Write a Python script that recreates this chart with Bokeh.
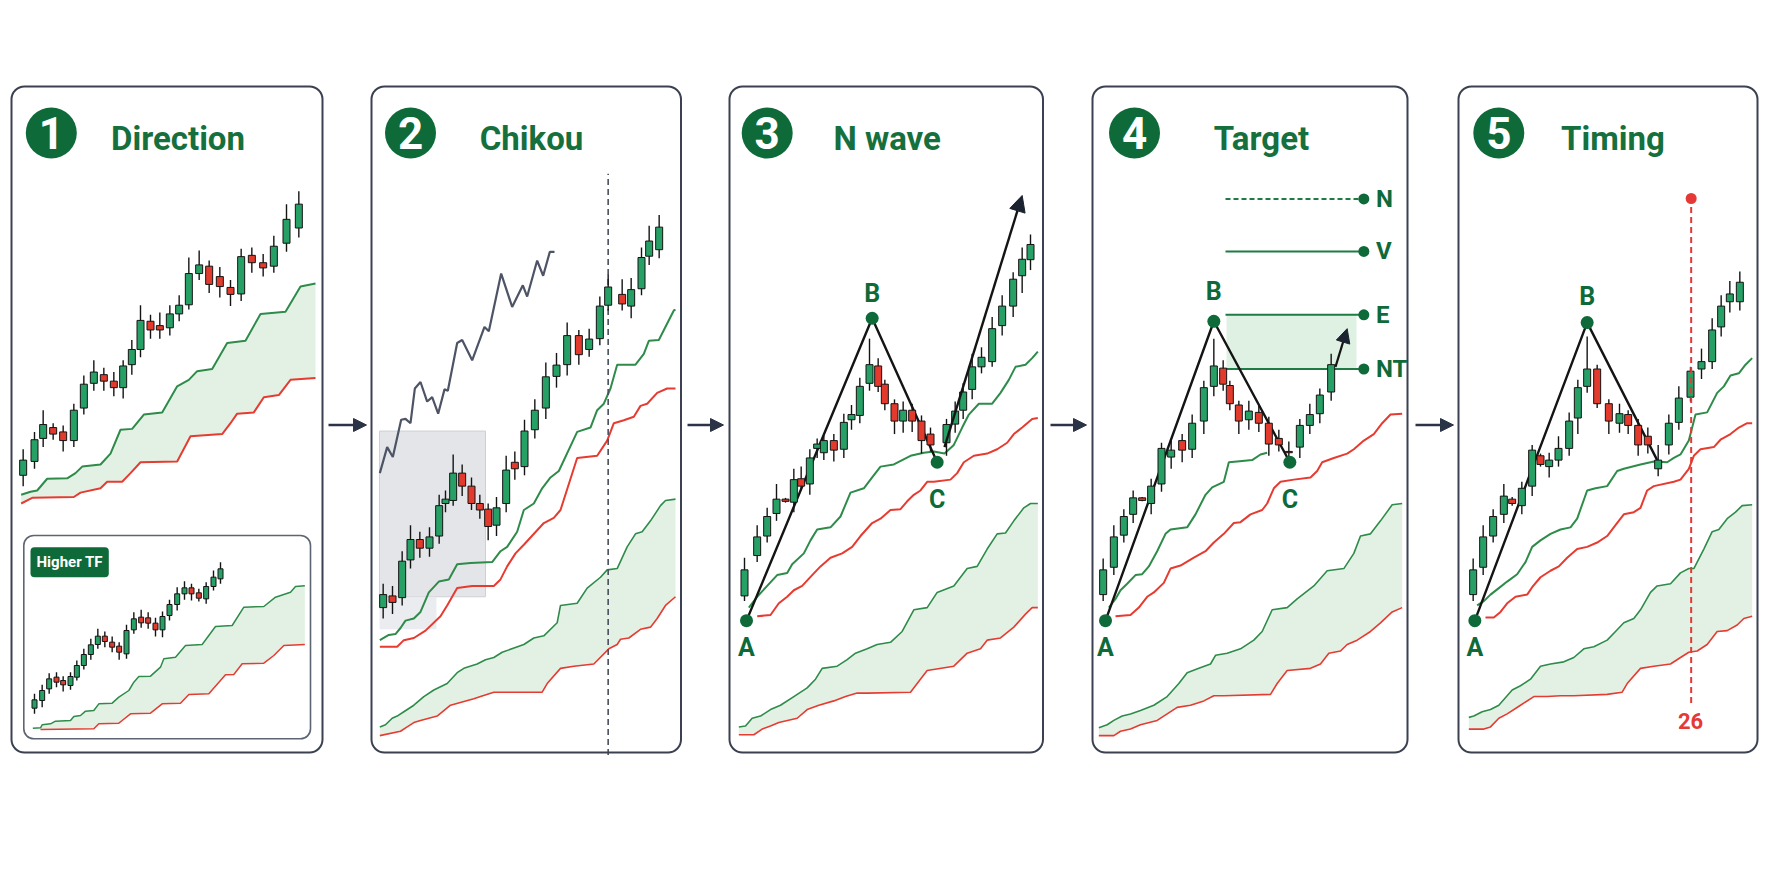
from bokeh.plotting import figure
from bokeh.layouts import row
from bokeh.models import Range1d, BoxAnnotation, Label, Arrow, NormalHead
from bokeh.embed import file_html
from bokeh.resources import INLINE

# ======================= DATA =======================
TITLES = ["Direction", "Chikou", "N wave", "Target", "Timing"]

# Panel 1 : main timeframe candles (time, open, high, low, close)
p1_t = [6.8, 10.2, 12.8, 15.8, 18.8, 22.0, 25.0, 28.0, 31.0, 34.0, 36.8, 39.4, 42.0, 45.0, 47.8, 50.8, 53.6, 56.5, 59.6, 62.6, 65.8, 69.0, 72.2, 75.4, 78.8, 82.0, 85.8, 89.5]
p1_open = [69.0, 72.2, 77.5, 80.0, 79.0, 77.0, 84.5, 90.2, 92.2, 90.7, 89.2, 94.5, 98.0, 104.5, 103.5, 103.0, 106.2, 108.3, 115.5, 117.2, 114.8, 112.3, 110.8, 119.7, 118.0, 117.2, 122.5, 126.0]
p1_high = [75.0, 79.0, 84.0, 81.0, 80.5, 85.5, 92.0, 95.5, 93.8, 92.8, 95.5, 100.2, 108.2, 106.0, 106.5, 108.2, 110.5, 119.2, 120.8, 118.5, 117.0, 114.0, 121.2, 121.5, 120.0, 124.2, 131.5, 134.5]
p1_low = [66.5, 70.5, 75.5, 77.2, 74.5, 75.5, 83.0, 88.5, 88.5, 87.2, 86.7, 92.2, 96.2, 100.5, 100.5, 101.2, 104.5, 107.2, 114.0, 111.0, 110.0, 108.0, 109.2, 115.7, 114.8, 115.7, 120.5, 123.8]
p1_close = [72.5, 77.2, 80.7, 78.5, 77.0, 84.0, 90.0, 92.8, 90.7, 89.2, 94.2, 98.0, 104.7, 102.5, 102.5, 106.2, 108.2, 115.5, 117.5, 113.0, 112.5, 110.7, 119.4, 118.0, 116.8, 121.8, 128.0, 131.5]
p1_span_a = [(6.2, 64.5), (9.0, 65.2), (11.0, 65.5), (14.0, 68.2), (20.0, 68.3), (22.5, 69.5), (24.5, 71.0), (30.0, 71.5), (33.0, 74.0), (36.0, 79.5), (39.5, 79.7), (43.0, 83.0), (48.5, 83.5), (53.0, 89.5), (56.5, 91.0), (59.0, 93.0), (63.5, 93.5), (68.0, 99.5), (73.5, 100.0), (78.0, 106.2), (85.5, 106.7), (90.0, 112.5), (94.5, 113.2)]
p1_span_b = [(6.2, 62.5), (9.5, 63.8), (22.0, 64.0), (24.0, 65.0), (30.0, 66.0), (32.0, 67.5), (36.5, 67.5), (39.0, 69.5), (42.0, 72.0), (53.0, 72.2), (57.0, 78.0), (66.5, 78.5), (69.0, 81.0), (71.0, 83.2), (76.0, 83.5), (79.0, 87.0), (83.5, 87.5), (87.0, 91.0), (94.5, 91.4)]

# Panel 1 inset : higher timeframe
htf_t = [5.7, 8.0, 10.1, 12.3, 14.3, 16.5, 18.4, 20.5, 22.6, 24.7, 26.8, 29.0, 31.1, 33.3, 35.5, 37.7, 39.8, 42.0, 44.1, 46.2, 48.5, 50.7, 52.8, 55.0, 57.2, 59.4, 61.5]
htf_open = [16.7, 19.0, 22.5, 26.0, 25.0, 23.5, 26.0, 29.5, 32.8, 35.8, 38.3, 36.5, 35.3, 33.0, 40.2, 44.0, 43.8, 42.2, 40.2, 44.5, 47.8, 51.0, 52.8, 51.3, 49.5, 53.2, 55.5]
htf_high = [21.0, 23.7, 27.2, 27.5, 26.3, 27.5, 31.0, 34.5, 37.5, 40.5, 39.7, 38.2, 36.5, 41.7, 45.5, 46.2, 45.5, 43.8, 45.7, 49.2, 53.0, 54.8, 54.0, 52.5, 54.5, 58.0, 60.5]
htf_low = [15.0, 17.0, 21.0, 23.0, 21.7, 22.2, 25.0, 28.3, 31.2, 34.5, 35.0, 33.5, 31.2, 31.5, 39.0, 40.8, 40.5, 38.2, 38.0, 43.0, 46.0, 49.2, 49.0, 48.7, 48.0, 52.0, 54.0]
htf_close = [19.2, 22.0, 25.5, 24.5, 23.7, 26.2, 29.5, 32.8, 35.7, 38.3, 36.7, 35.0, 33.5, 40.0, 43.5, 42.3, 42.2, 40.2, 44.2, 47.8, 51.0, 52.8, 51.0, 49.7, 53.2, 56.0, 58.5]
htf_span_a = [(5.2, 10.7), (7.5, 10.8), (8.0, 11.7), (10.5, 12.0), (12.0, 12.8), (16.5, 13.0), (17.5, 14.2), (19.5, 14.5), (21.0, 15.8), (23.5, 16.0), (25.0, 18.0), (29.0, 18.2), (31.0, 20.0), (34.0, 22.0), (35.5, 24.5), (37.0, 26.2), (40.5, 26.3), (43.5, 29.0), (44.5, 31.5), (48.0, 32.0), (51.0, 35.5), (56.0, 35.8), (60.0, 41.2), (65.0, 41.5), (68.5, 47.0), (74.5, 47.2), (78.0, 50.0), (82.5, 51.5), (84.0, 53.2), (86.8, 53.4)]
htf_span_b = [(7.5, 10.3), (23.5, 10.5), (25.0, 12.0), (31.0, 12.2), (32.0, 13.0), (34.5, 15.0), (40.5, 15.2), (44.0, 18.0), (49.5, 18.2), (52.0, 20.8), (58.0, 21.0), (63.0, 26.7), (65.5, 26.8), (68.0, 30.0), (74.5, 30.2), (77.5, 32.5), (80.5, 35.5), (86.8, 35.8)]

# Panel 2 : Chikou
p2_t = [6.8, 9.6, 12.5, 15.0, 17.8, 20.7, 23.6, 25.5, 27.8, 30.5, 33.3, 35.8, 38.3, 40.8, 43.7, 46.3, 49.2, 52.3, 55.6, 58.8, 62.0, 65.5, 68.6, 71.8, 74.3, 78.5, 81.2, 84.3, 86.6, 89.6]
p2_open = [38.5, 41.2, 40.8, 49.5, 54.2, 52.2, 55.0, 62.5, 63.2, 69.5, 66.5, 62.5, 61.2, 57.5, 62.5, 72.0, 71.0, 79.5, 84.5, 91.8, 94.5, 101.2, 98.0, 100.5, 108.2, 110.7, 108.0, 112.0, 119.5, 121.0]
p2_high = [44.0, 43.5, 51.5, 57.5, 56.0, 57.0, 64.5, 65.5, 73.8, 71.5, 68.5, 64.5, 62.5, 64.0, 73.5, 74.5, 81.8, 86.5, 95.0, 97.2, 104.2, 102.5, 102.8, 110.2, 115.2, 114.2, 114.5, 121.5, 126.5, 129.0]
p2_low = [36.0, 37.0, 39.0, 47.5, 50.0, 50.2, 53.2, 60.5, 62.0, 64.2, 61.0, 59.0, 54.0, 55.0, 60.5, 68.0, 69.0, 77.5, 82.0, 89.2, 92.0, 94.5, 96.3, 99.0, 107.0, 107.0, 105.2, 110.5, 117.5, 119.0]
p2_close = [41.5, 39.7, 49.2, 54.2, 52.2, 54.8, 62.0, 63.5, 69.5, 66.5, 62.5, 61.0, 57.2, 61.5, 70.2, 70.5, 79.2, 84.0, 91.7, 94.4, 101.2, 96.8, 100.4, 108.0, 112.4, 108.5, 111.8, 119.2, 123.0, 126.2]
p2_chikou = [(5.8, 69.5), (8.0, 75.5), (9.7, 73.2), (12.2, 81.8), (13.5, 82.0), (15.0, 81.0), (16.3, 89.0), (18.0, 90.5), (20.0, 86.0), (21.5, 87.0), (23.3, 83.2), (25.2, 88.8), (26.2, 88.5), (29.0, 99.5), (30.5, 100.2), (33.5, 95.5), (37.2, 103.2), (38.5, 102.2), (42.2, 115.5), (45.5, 107.8), (48.7, 112.8), (50.0, 110.2), (53.0, 118.5), (54.8, 115.0), (56.8, 120.5), (58.2, 120.5)]
p2_kijun = [(5.8, 31.0), (8.5, 32.2), (10.5, 32.4), (12.0, 33.8), (13.5, 35.5), (16.0, 36.0), (18.0, 37.5), (20.5, 42.0), (23.5, 44.5), (26.5, 45.0), (29.0, 48.5), (33.0, 48.8), (39.5, 49.0), (42.0, 51.5), (44.0, 52.5), (47.0, 56.0), (49.0, 61.0), (52.0, 62.5), (54.5, 66.0), (57.0, 68.5), (59.5, 70.0), (65.0, 79.0), (69.0, 80.0), (71.0, 84.0), (73.0, 85.5), (75.0, 89.0), (77.0, 94.5), (82.5, 94.5), (85.0, 97.0), (86.5, 100.0), (89.5, 100.2), (92.0, 104.0), (94.0, 107.0), (94.5, 107.2)]
p2_base = [(5.8, 29.5), (11.0, 29.5), (13.0, 31.0), (16.0, 31.5), (19.5, 33.2), (24.0, 36.5), (26.0, 39.0), (29.0, 43.0), (33.5, 43.5), (40.0, 43.5), (42.0, 45.0), (44.0, 48.0), (46.5, 51.0), (49.0, 53.0), (55.0, 58.0), (58.0, 59.2), (60.0, 61.0), (65.0, 73.0), (71.0, 73.5), (74.0, 77.0), (76.0, 81.0), (79.0, 81.7), (82.0, 82.5), (84.0, 85.0), (86.0, 85.5), (89.0, 88.0), (92.0, 89.0), (94.5, 89.0)]
p2_span_a = [(5.8, 11.0), (7.5, 11.5), (9.5, 13.0), (11.0, 13.5), (13.0, 14.5), (16.0, 16.0), (19.0, 18.0), (22.0, 19.5), (26.0, 21.0), (29.0, 23.5), (31.0, 24.5), (35.0, 25.5), (37.5, 26.5), (40.0, 27.0), (42.5, 28.2), (49.0, 30.0), (52.0, 31.5), (55.0, 32.0), (59.0, 35.0), (60.0, 39.0), (65.0, 39.5), (68.0, 43.0), (72.0, 45.5), (74.0, 47.2), (77.0, 47.5), (80.0, 52.5), (82.5, 55.5), (84.5, 56.0), (87.0, 58.5), (90.0, 62.0), (91.5, 63.2), (94.5, 63.5)]
p2_span_b = [(5.8, 9.0), (12.0, 10.0), (14.0, 11.0), (16.0, 12.0), (18.0, 12.5), (23.0, 13.5), (27.0, 16.0), (34.0, 17.5), (36.0, 18.0), (40.0, 19.0), (54.5, 19.0), (56.0, 21.0), (60.0, 24.5), (64.0, 25.0), (70.0, 25.5), (74.5, 29.0), (77.0, 30.0), (78.0, 31.2), (80.5, 31.5), (84.0, 33.5), (87.0, 34.0), (89.0, 36.0), (91.5, 39.0), (94.5, 41.0)]
p2_lookback = [(5.7, 37.5, 41.0, 79.2), (5.7, 22.8, 33.5, 41.0)]   # (t0, t1, low, high)
p2_now_t = 74.3
p2_now_range = (4.5, 138.5)

# Panel 3 : N wave
p3_t = [7.2, 11.0, 14.0, 16.8, 19.5, 22.0, 24.2, 26.8, 29.0, 31.0, 34.0, 37.0, 39.3, 41.8, 44.7, 47.3, 49.3, 52.2, 54.8, 57.5, 60.3, 63.0, 67.8, 70.4, 72.8, 75.5, 78.3, 81.5, 84.5, 87.8, 90.5, 93.0]
p3_open = [41.2, 50.5, 55.0, 60.2, 63.5, 62.8, 68.2, 67.0, 75.2, 74.2, 77.0, 75.0, 81.8, 82.8, 90.2, 94.2, 90.0, 85.5, 81.5, 84.0, 81.5, 78.5, 76.5, 80.8, 84.0, 88.8, 94.0, 95.2, 103.5, 108.0, 115.0, 118.7]
p3_high = [50.0, 57.5, 61.5, 67.0, 63.8, 70.5, 71.0, 75.0, 77.5, 78.2, 78.5, 83.2, 85.2, 91.5, 100.5, 96.0, 91.0, 86.5, 86.0, 85.5, 82.8, 80.0, 82.0, 86.0, 90.2, 97.0, 98.5, 105.5, 110.5, 115.8, 121.5, 124.5]
p3_low = [40.0, 49.0, 53.5, 58.5, 62.7, 60.5, 65.5, 64.5, 73.0, 72.5, 72.2, 73.0, 79.5, 81.0, 88.5, 88.2, 84.0, 78.5, 78.8, 79.0, 74.0, 74.5, 73.5, 78.8, 82.0, 86.5, 92.5, 94.0, 101.2, 105.5, 111.0, 116.3]
p3_close = [47.2, 54.8, 59.5, 63.5, 63.0, 68.0, 66.5, 73.0, 76.2, 77.0, 74.8, 81.2, 83.0, 89.5, 94.5, 89.5, 85.5, 81.5, 84.0, 81.5, 77.0, 76.0, 80.7, 83.8, 88.2, 94.0, 96.2, 102.8, 108.0, 114.2, 118.8, 122.2]
p3_kijun = [(8.5, 38.5), (11.0, 41.0), (14.0, 43.5), (17.0, 46.0), (20.0, 46.5), (21.5, 48.5), (25.0, 51.0), (27.0, 54.0), (29.0, 56.5), (33.0, 57.0), (36.0, 59.5), (39.0, 65.0), (43.0, 66.0), (45.5, 68.5), (48.0, 71.0), (52.0, 71.5), (57.0, 73.5), (61.0, 74.2), (64.0, 74.5), (67.2, 74.0), (70.0, 76.0), (72.5, 80.0), (74.5, 83.0), (77.5, 85.5), (81.5, 85.5), (84.0, 88.0), (86.5, 91.0), (88.5, 94.0), (91.5, 94.5), (93.5, 96.0), (95.2, 97.5)]
p3_base = [(11.0, 36.5), (15.0, 36.8), (17.5, 39.5), (20.0, 41.0), (22.0, 42.5), (24.5, 43.5), (27.5, 46.0), (30.0, 48.0), (33.0, 50.0), (36.5, 51.0), (39.5, 52.5), (42.0, 55.0), (45.5, 58.0), (48.0, 59.0), (51.0, 61.0), (54.0, 61.2), (56.0, 63.0), (58.0, 64.5), (60.0, 65.5), (62.0, 67.5), (64.0, 67.5), (69.0, 68.0), (71.0, 69.5), (73.0, 72.0), (76.0, 73.5), (80.0, 74.0), (83.0, 75.0), (86.0, 76.5), (88.0, 78.5), (90.5, 80.0), (93.5, 82.0), (95.2, 82.2)]
p3_span_a = [(5.5, 11.0), (7.5, 11.2), (9.5, 13.0), (12.0, 13.5), (15.0, 15.0), (18.0, 16.0), (22.0, 18.0), (26.0, 20.0), (28.5, 22.0), (30.5, 24.5), (35.0, 25.0), (38.0, 26.5), (40.5, 28.0), (44.0, 29.0), (47.0, 30.0), (51.0, 30.5), (54.5, 33.0), (58.0, 38.0), (62.0, 38.5), (65.0, 42.0), (70.0, 43.5), (74.0, 47.5), (77.0, 48.0), (80.0, 52.0), (83.0, 55.5), (85.5, 55.7), (88.0, 58.5), (91.0, 61.5), (93.0, 62.5), (95.2, 62.5)]
p3_span_b = [(5.5, 9.2), (10.0, 9.2), (12.5, 10.5), (15.0, 11.2), (17.5, 12.0), (23.0, 13.0), (26.0, 15.0), (29.5, 16.0), (34.0, 17.0), (37.5, 18.0), (41.0, 18.8), (44.0, 18.8), (57.0, 19.0), (59.0, 21.0), (62.0, 24.0), (70.0, 25.0), (74.0, 28.0), (78.0, 29.0), (80.0, 31.0), (84.0, 31.5), (88.0, 34.0), (91.5, 37.0), (93.5, 38.5), (95.2, 38.5)]
p3_wave_t = [7.8, 45.5, 65.0]
p3_wave_p = [35.5, 105.2, 72.0]
p3_wave_names = ["A", "B", "C"]
p3_projection = (67.2, 75.5, 90.5, 133.5)

# Panel 4 : Target
p4_t = [6.8, 10.0, 13.0, 15.8, 18.5, 21.2, 24.3, 27.2, 30.5, 33.5, 37.0, 40.0, 42.8, 44.8, 47.5, 50.5, 53.5, 56.5, 59.5, 62.5, 65.8, 68.8, 71.8, 75.2]
p4_open = [41.5, 47.8, 55.2, 60.0, 63.8, 62.5, 67.0, 73.2, 77.0, 75.0, 81.5, 89.5, 93.7, 89.7, 85.2, 81.8, 83.5, 81.0, 77.5, 74.5, 75.5, 80.5, 83.2, 88.2]
p4_high = [49.8, 57.5, 61.2, 65.5, 64.0, 68.2, 76.5, 77.0, 78.5, 83.0, 90.8, 100.5, 95.5, 90.8, 86.2, 86.2, 85.0, 82.5, 79.5, 76.8, 82.0, 85.5, 89.0, 97.0]
p4_low = [40.0, 46.0, 53.5, 58.0, 63.0, 60.0, 65.2, 70.5, 72.0, 73.0, 78.5, 87.2, 88.5, 84.0, 78.5, 79.5, 79.0, 73.5, 74.5, 72.0, 73.0, 78.5, 81.0, 86.2]
p4_close = [47.2, 54.8, 59.5, 63.8, 63.2, 66.5, 75.2, 74.8, 74.8, 81.0, 89.2, 94.2, 90.0, 85.5, 81.5, 83.8, 81.0, 76.2, 76.0, 74.2, 80.5, 83.0, 87.5, 94.5]
p4_kijun = [(8.5, 38.5), (10.5, 40.5), (12.0, 42.5), (14.0, 44.0), (16.5, 46.0), (18.5, 46.2), (20.5, 48.0), (23.0, 51.5), (25.5, 55.5), (27.0, 56.5), (32.0, 57.0), (34.5, 60.0), (37.5, 64.5), (39.5, 66.2), (43.0, 67.5), (44.5, 72.0), (47.0, 72.2), (51.5, 72.5), (54.0, 73.8), (56.0, 74.2)]
p4_base = [(10.5, 36.5), (15.0, 36.8), (17.5, 38.5), (20.0, 41.0), (22.0, 42.0), (25.0, 44.2), (27.0, 47.5), (30.0, 48.2), (34.0, 50.0), (37.5, 51.5), (40.0, 53.5), (43.0, 55.5), (46.0, 58.0), (48.0, 58.2), (51.0, 60.0), (54.5, 61.0), (56.0, 62.5), (58.0, 66.0), (60.0, 67.5), (64.0, 68.0), (69.0, 68.5), (71.0, 70.0), (72.5, 72.0), (76.0, 73.0), (80.0, 74.0), (82.0, 75.0), (85.0, 77.0), (88.0, 78.5), (90.5, 81.0), (93.0, 83.0), (96.5, 83.2)]
p4_span_a = [(5.5, 10.8), (8.0, 11.5), (10.0, 12.5), (12.5, 13.5), (15.0, 14.0), (18.0, 14.8), (22.0, 16.0), (26.0, 18.0), (29.5, 21.0), (32.0, 23.5), (35.5, 24.5), (39.0, 25.5), (40.5, 27.5), (44.0, 28.0), (48.0, 29.0), (52.0, 31.0), (54.5, 33.0), (57.5, 38.0), (62.0, 38.5), (65.0, 40.5), (70.0, 43.5), (74.0, 47.0), (79.0, 47.5), (82.0, 51.0), (84.0, 55.0), (87.0, 55.5), (90.0, 58.5), (93.5, 62.2), (96.5, 62.5)]
p4_span_b = [(5.5, 9.0), (10.0, 9.0), (12.0, 10.0), (15.0, 10.5), (18.0, 11.5), (23.0, 12.5), (26.0, 14.0), (29.0, 15.5), (33.0, 16.0), (37.0, 17.0), (40.0, 18.2), (43.0, 18.2), (57.0, 18.5), (59.0, 21.0), (62.0, 24.0), (69.0, 24.5), (72.0, 25.5), (74.5, 28.0), (78.0, 28.5), (80.0, 30.0), (83.0, 31.0), (87.0, 33.0), (90.0, 35.0), (93.5, 37.5), (96.5, 38.5)]
p4_wave_t = [7.5, 40.0, 62.8]
p4_wave_p = [35.5, 104.5, 72.0]
p4_wave_names = ["A", "B", "C"]
p4_projection = (76.5, 94.0, 80.0, 102.8)
p4_target_names = ["N", "V", "E", "NT"]
p4_target_levels = [132.7, 120.6, 106.0, 93.5]
p4_target_from, p4_target_to = 43.5, 85.0

# Panel 5 : Timing
p5_t = [9.8, 12.8, 15.8, 19.0, 21.5, 24.4, 27.5, 30.0, 32.6, 35.4, 38.6, 41.2, 44.0, 47.0, 50.5, 53.7, 56.3, 59.3, 62.2, 65.3, 68.5, 71.5, 75.0, 78.3, 81.5, 84.2, 86.8, 89.8]
p5_open = [41.5, 47.8, 55.0, 60.0, 63.5, 62.0, 66.5, 73.5, 71.0, 72.5, 75.2, 82.2, 89.5, 93.5, 85.5, 81.0, 83.0, 80.5, 78.0, 70.5, 76.0, 81.2, 87.0, 93.5, 95.2, 103.2, 109.0, 109.0]
p5_high = [49.8, 57.5, 61.2, 67.0, 64.0, 67.5, 76.0, 74.0, 74.2, 78.0, 83.5, 91.0, 101.0, 94.5, 86.5, 85.5, 84.0, 82.0, 80.0, 76.0, 83.0, 89.5, 94.0, 98.2, 105.2, 110.5, 113.8, 116.0]
p5_low = [40.0, 46.0, 53.5, 58.0, 62.0, 60.0, 64.2, 71.0, 68.5, 71.0, 73.5, 78.5, 88.0, 84.5, 78.5, 78.8, 78.5, 73.5, 74.0, 68.8, 73.8, 79.5, 86.0, 91.2, 93.5, 101.0, 106.5, 107.0]
p5_close = [47.2, 54.8, 59.5, 64.2, 62.5, 66.0, 74.8, 71.5, 72.5, 75.2, 81.5, 89.2, 93.5, 85.5, 81.5, 83.2, 80.5, 76.0, 76.0, 72.5, 81.0, 86.8, 93.0, 95.2, 102.5, 108.0, 110.8, 113.5]
p5_kijun = [(11.0, 39.0), (13.0, 40.0), (15.0, 41.5), (17.5, 43.0), (20.0, 44.5), (23.0, 46.2), (25.5, 49.0), (27.5, 52.5), (30.0, 54.0), (33.0, 55.5), (36.0, 56.5), (39.0, 57.0), (41.0, 59.0), (44.0, 65.5), (46.5, 66.0), (50.0, 66.5), (53.0, 70.0), (55.0, 70.5), (60.0, 71.5), (64.0, 72.2), (68.0, 72.0), (70.0, 73.0), (72.0, 73.8), (74.5, 77.0), (76.5, 83.0), (80.0, 83.5), (83.0, 88.0), (85.0, 89.5), (87.0, 92.0), (89.5, 92.5), (91.5, 94.5), (93.5, 96.0)]
p5_base = [(13.5, 36.2), (16.0, 36.2), (18.0, 37.5), (20.0, 39.5), (22.5, 41.0), (26.0, 41.5), (27.5, 43.2), (30.0, 45.5), (33.0, 47.0), (35.5, 48.0), (38.0, 50.0), (41.0, 52.0), (44.0, 52.5), (47.0, 53.5), (50.0, 55.0), (52.5, 57.5), (55.0, 60.0), (58.0, 60.5), (60.0, 61.5), (62.0, 65.5), (64.0, 66.5), (70.0, 67.5), (72.0, 68.0), (74.5, 70.5), (76.0, 73.5), (78.0, 75.0), (82.0, 75.5), (84.0, 77.2), (87.0, 78.5), (89.5, 80.0), (92.0, 81.0), (93.5, 81.0)]
p5_span_a = [(8.5, 13.2), (10.0, 13.5), (12.5, 14.5), (15.0, 15.0), (17.5, 16.0), (21.5, 19.5), (24.0, 20.5), (27.0, 22.0), (30.0, 25.0), (33.0, 25.5), (37.0, 26.0), (40.0, 27.0), (43.0, 29.0), (46.0, 29.5), (50.0, 31.0), (52.5, 33.0), (55.0, 35.0), (58.0, 36.0), (60.0, 38.0), (63.0, 42.0), (65.0, 43.5), (69.0, 44.0), (72.0, 46.5), (74.5, 47.5), (76.0, 47.5), (79.0, 52.0), (81.5, 56.0), (83.5, 56.5), (86.0, 59.0), (88.5, 60.5), (90.5, 62.0), (93.5, 62.2)]
p5_span_b = [(8.5, 10.5), (13.0, 10.5), (15.0, 11.0), (17.5, 13.0), (20.0, 14.0), (24.0, 16.0), (28.0, 18.0), (32.0, 18.0), (36.0, 18.2), (40.0, 18.2), (50.0, 18.5), (54.5, 19.0), (56.0, 21.0), (60.0, 24.5), (64.0, 25.0), (69.0, 25.5), (72.0, 27.0), (74.5, 28.2), (77.0, 28.5), (80.0, 30.0), (83.0, 33.0), (86.0, 33.2), (89.0, 34.5), (91.0, 36.0), (93.5, 36.5)]
p5_wave_t = [10.3, 44.0, 65.0]
p5_wave_p = [35.5, 104.2, 72.5]
p5_wave_names = ["A", "B"]
p5_cycle_t = 75.2
p5_cycle_range = (16.5, 132.8)
p5_cycle_label = "26"

# ======================= STYLE / LAYOUT =======================
FONT = "Roboto"
DKGREEN = "#0e6a39"
TITLE_GREEN = "#15703e"
UP = "#27a066"
DOWN = "#e23b2e"
INK = "#141414"
CLOUD_G = "#2e8b4a"
CLOUD_R = "#e63b30"
FILL = "#e3f1e5"
BORDER = "#3b4150"
NAVY = "#2b3446"
RED = "#e53935"

# page coordinates (the page is drawn from its top-left corner)
FIG_LEFT = [0, 368, 726, 1089, 1455]
FIG_W = [368, 358, 363, 366, 311]
FIG_H = 768
CROP_X0 = [0, 360, 720, 1080, 1440]
PANEL_L = [11, 371, 729, 1092, 1458]
PANEL_R = [322, 680.5, 1042.5, 1407, 1757]
PANEL_T, PANEL_B = 86, 752
BADGE_X = [50.8, 410, 766.7, 1134, 1498.3]
TITLE_X = [177.5, 531, 886.7, 1261, 1612.5]
GAP_ARROWS = [(328, 366), (687, 723), (1050, 1086), (1415, 1453)]


def T(k, px):
    return (px - CROP_X0[k]) * 0.3


def P(py):
    return 160 - (py - 80) * 0.2305


def TI(px):
    return (px - 15) * 0.3


def PI(py):
    return 70 - (py - 530) * 0.3


def make_fig(k):
    return figure(width=FIG_W[k], height=FIG_H,
                  x_range=Range1d(T(k, FIG_LEFT[k]), T(k, FIG_LEFT[k] + FIG_W[k])),
                  y_range=Range1d(P(FIG_H), P(0)),
                  x_axis_type=None, y_axis_type=None, toolbar_location=None,
                  output_backend="svg", min_border=0, outline_line_color=None,
                  background_fill_color="white", border_fill_color="white", title=None)


def text(p, x, y, s, size, color, align="center"):
    p.add_layout(Label(x=x, y=y, text=s, text_align=align, text_baseline="middle",
                       text_font=FONT, text_font_size=size, text_font_style="bold",
                       text_color=color))


def decorate(p, k):
    p.add_layout(BoxAnnotation(left=T(k, PANEL_L[k]), right=T(k, PANEL_R[k]),
                               top=P(PANEL_T), bottom=P(PANEL_B),
                               fill_color=None, line_color=BORDER, line_alpha=1.0,
                               line_width=2, border_radius=13))
    p.scatter([T(k, BADGE_X[k])], [P(132.5)], size=51, marker="circle",
              fill_color=DKGREEN, line_color=None)
    text(p, T(k, BADGE_X[k]), P(132), str(k + 1), "44px", "white")
    text(p, T(k, TITLE_X[k]), P(137.5), TITLES[k], "33px", TITLE_GREEN)
    if k < 4:
        x0, x1 = GAP_ARROWS[k]
        p.add_layout(Arrow(x_start=T(k, x0), y_start=P(424.5), x_end=T(k, x1), y_end=P(424.5),
                           line_color=NAVY, line_width=2.5,
                           end=NormalHead(size=13, fill_color=NAVY, line_color=NAVY)))


def candles(p, t, o, h, l, c, width, **kw):
    top = [max(a, b) for a, b in zip(o, c)]
    bot = [min(a, b) for a, b in zip(o, c)]
    col = [UP if b >= a else DOWN for a, b in zip(o, c)]
    p.segment(x0=t, y0=l, x1=t, y1=h, line_color=INK, line_width=1.4, **kw)
    p.vbar(x=t, width=width, top=top, bottom=bot, fill_color=col,
           line_color=INK, line_width=1.0, **kw)


def line(p, pts, color, width, **kw):
    p.line([a for a, _ in pts], [b for _, b in pts], line_color=color, line_width=width, **kw)


def cloud(p, upper, lower, lw=1.7, **kw):
    xs = [a for a, _ in upper] + [a for a, _ in reversed(lower)]
    ys = [b for _, b in upper] + [b for _, b in reversed(lower)]
    p.patch(xs, ys, fill_color=FILL, line_color=None, **kw)
    line(p, upper, CLOUD_G, lw, **kw)
    line(p, lower, CLOUD_R, lw, **kw)


def wave_marks(p, ts, ps, names, label_rows, count):
    p.scatter(ts[:count], ps[:count], size=13, marker="circle", fill_color=DKGREEN, line_color=None)
    for i, nm in enumerate(names):
        text(p, ts[i], P(label_rows[i]), nm, "25px", DKGREEN)


figs = [make_fig(k) for k in range(5)]

# ---- panel 1 ----
p = figs[0]
decorate(p, 0)
cloud(p, p1_span_a, p1_span_b, lw=2.0)
candles(p, p1_t, p1_open, p1_high, p1_low, p1_close, 2.1)
p.extra_x_ranges = {"in": Range1d(TI(FIG_LEFT[0]), TI(FIG_LEFT[0] + FIG_W[0]))}
p.extra_y_ranges = {"in": Range1d(PI(FIG_H), PI(0))}
p.add_layout(BoxAnnotation(left=T(0, 23.3), right=T(0, 310), top=P(535), bottom=P(738.3),
                           fill_color=None, line_color="#5d6472", line_alpha=1.0,
                           line_width=1.6, border_radius=10))
p.add_layout(BoxAnnotation(left=T(0, 30), right=T(0, 108.3), top=P(546.7), bottom=P(576.7),
                           fill_color=DKGREEN, fill_alpha=1.0, line_color=None, border_radius=4))
text(p, T(0, 69.2), P(561.5), "Higher TF", "15px", "white")
cloud(p, htf_span_a, htf_span_b, lw=1.5, x_range_name="in", y_range_name="in")
candles(p, htf_t, htf_open, htf_high, htf_low, htf_close, 1.5, x_range_name="in", y_range_name="in")

# ---- panel 2 ----
p = figs[1]
decorate(p, 1)
cloud(p, p2_span_a, p2_span_b, lw=1.6)
box = p2_lookback[0]
p.quad(left=[box[0]], right=[box[1]], bottom=[box[2]], top=[box[3]],
       fill_color="#dfe0e4", fill_alpha=0.85, line_color="#cdd0d5", line_width=1)
box = p2_lookback[1]
p.quad(left=[box[0]], right=[box[1]], bottom=[box[2]], top=[box[3]],
       fill_color="#e9eaed", fill_alpha=0.9, line_color=None)
line(p, p2_kijun, CLOUD_G, 2.0)
line(p, p2_base, CLOUD_R, 2.0)
line(p, p2_chikou, "#4d5465", 2.2)
p.segment(x0=[p2_now_t], y0=[p2_now_range[0]], x1=[p2_now_t], y1=[p2_now_range[1]],
          line_color="#4a4f5c", line_width=1.6, line_dash="6 4")
candles(p, p2_t, p2_open, p2_high, p2_low, p2_close, 2.1)

# ---- panel 3 ----
p = figs[2]
decorate(p, 2)
cloud(p, p3_span_a, p3_span_b, lw=1.6)
line(p, p3_kijun, CLOUD_G, 2.0)
line(p, p3_base, CLOUD_R, 2.0)
p.line(p3_wave_t, p3_wave_p, line_color=INK, line_width=2.4)
x0, y0, x1, y1 = p3_projection
p.add_layout(Arrow(x_start=x0, y_start=y0, x_end=x1, y_end=y1, line_color=INK, line_width=2.4,
                   end=NormalHead(size=16, fill_color="#1b2230", line_color="#1b2230")))
candles(p, p3_t, p3_open, p3_high, p3_low, p3_close, 2.1)
wave_marks(p, p3_wave_t, p3_wave_p, p3_wave_names, [647, 292.6, 498.5], 3)

# ---- panel 4 ----
p = figs[3]
decorate(p, 3)
cloud(p, p4_span_a, p4_span_b, lw=1.6)
line(p, p4_kijun, CLOUD_G, 2.0)
line(p, p4_base, CLOUD_R, 2.0)
p.quad(left=[p4_target_from + 0.3], right=[p4_target_to - 2.2],
       bottom=[p4_target_levels[3]], top=[p4_target_levels[2]],
       fill_color="#dcefe0", fill_alpha=0.9, line_color=None)
for nm, lv in zip(p4_target_names, p4_target_levels):
    p.segment(x0=[p4_target_from], y0=[lv], x1=[p4_target_to], y1=[lv],
              line_color="#1f7a45", line_width=2.0,
              line_dash="5 3" if nm == "N" else "solid")
    text(p, T(3, 1375.5), lv, nm, "24px", DKGREEN, align="left")
p.scatter([p4_target_to] * 4, p4_target_levels, size=11, marker="circle",
          fill_color=DKGREEN, line_color=None)
p.line(p4_wave_t, p4_wave_p, line_color=INK, line_width=2.4)
x0, y0, x1, y1 = p4_projection
p.add_layout(Arrow(x_start=x0, y_start=y0, x_end=x1, y_end=y1, line_color=INK, line_width=2.2,
                   end=NormalHead(size=14, fill_color="#1b2230", line_color="#1b2230")))
candles(p, p4_t, p4_open, p4_high, p4_low, p4_close, 2.1)
wave_marks(p, p4_wave_t, p4_wave_p, p4_wave_names, [647, 291, 498.5], 3)

# ---- panel 5 ----
p = figs[4]
decorate(p, 4)
cloud(p, p5_span_a, p5_span_b, lw=1.6)
line(p, p5_kijun, CLOUD_G, 2.0)
line(p, p5_base, CLOUD_R, 2.0)
p.line(p5_wave_t, p5_wave_p, line_color=INK, line_width=2.4)
candles(p, p5_t, p5_open, p5_high, p5_low, p5_close, 2.1)
wave_marks(p, p5_wave_t, p5_wave_p, p5_wave_names, [647, 296], 2)
p.segment(x0=[p5_cycle_t], y0=[p5_cycle_range[0]], x1=[p5_cycle_t], y1=[p5_cycle_range[1]],
          line_color=RED, line_width=2.0, line_dash="6 4")
p.scatter([p5_cycle_t], [p5_cycle_range[1]], size=11, marker="circle", fill_color=RED, line_color=None)
text(p, p5_cycle_t - 0.2, P(720), p5_cycle_label, "22px", RED)

layout = row(*figs, spacing=0)
open("out.html", "w").write(file_html(layout, INLINE))
